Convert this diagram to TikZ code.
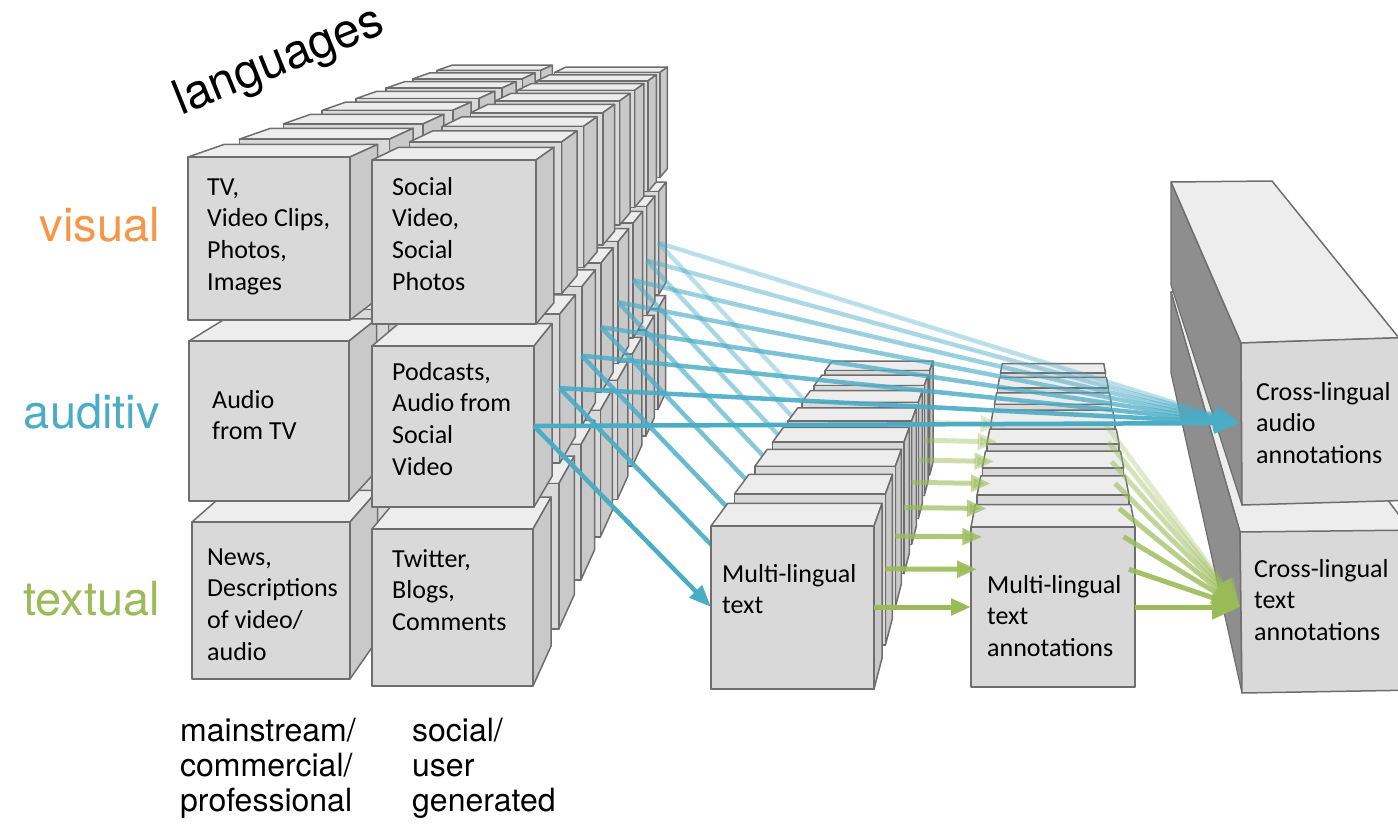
\documentclass[tikz,border=0pt]{standalone}
\usepackage{fontspec}
\setmainfont{Carlito}
\newfontfamily\helv{TeX Gyre Heros}
\usetikzlibrary{calc,arrows.meta}
\definecolor{edgegray}{HTML}{6E6E6E}
\definecolor{frontgray}{HTML}{D9D9D9}
\definecolor{topgray}{HTML}{EDEDED}
\definecolor{sidegray}{HTML}{C9C9C9}
\definecolor{leftgray}{HTML}{8E8E8E}
\definecolor{vorange}{HTML}{F79646}
\definecolor{ablue}{HTML}{4BACC6}
\definecolor{tgreen}{HTML}{9BBB59}
\tikzset{
 frontface/.style={fill=frontgray, draw=edgegray, line width=1.5pt, line join=round},
 topface/.style={fill=topgray, draw=edgegray, line width=1.5pt, line join=round},
 sideface/.style={fill=sidegray, draw=edgegray, line width=1.5pt, line join=round},
 darkface/.style={fill=leftgray, draw=edgegray, line width=1.2pt, line join=round},
 boxtext/.style={anchor=north west, align=left, inner sep=0pt, font={\fontsize{26}{31.7}\selectfont}},
 catlabel/.style={anchor=base east, inner sep=0pt, font={\helv\fontsize{47}{56}\selectfont}},
 srclabel/.style={anchor=north west, align=left, inner sep=0pt, font={\helv\fontsize{32}{35}\selectfont}},
 blueline/.style={draw=ablue, fill=ablue, line width=4.5pt},
 greenline/.style={draw=tgreen, fill=tgreen, line width=5pt},
}
\newcommand\bstrut{\rule{0pt}{21pt}}
\newcommand\hstrut{\rule{0pt}{25pt}}
% #1 vanishing point, #2 x0, #3 y0, #4 x1, #5 y1, #6 depth parameter, #7 right face shown
\newcommand\drawcube[7]{%
  \pgfmathsetmacro\scA{1/(#6)}%
  \pgfmathsetmacro\scB{1/(#6+0.055)}%
  \coordinate (q1) at ($(#1)!\scA!(#2,#3)$);
  \coordinate (q2) at ($(#1)!\scA!(#4,#3)$);
  \coordinate (q3) at ($(#1)!\scA!(#4,#5)$);
  \coordinate (q4) at ($(#1)!\scA!(#2,#5)$);
  \coordinate (r1) at ($(#1)!\scB!(#2,#3)$);
  \coordinate (r2) at ($(#1)!\scB!(#4,#3)$);
  \coordinate (r3) at ($(#1)!\scB!(#4,#5)$);
  \filldraw[topface] (q1) -- (q2) -- (r2) -- (r1) -- cycle;
  \ifnum#7=1 \filldraw[sideface] (q2) -- (r2) -- (r3) -- (q3) -- cycle;\fi
  \filldraw[frontface] (q1) -- (q2) -- (q3) -- (q4) -- cycle;
}
\begin{document}
\begin{tikzpicture}[x=1pt,y=-1pt]
\useasboundingbox (0,0) rectangle (1398,826);
\clip (0,0) rectangle (1398,826);
\coordinate (VA) at (881,-84);
\coordinate (VB) at (1029,93);
\coordinate (VC) at (1053,98);

% ---------- cross-lingual boxes ----------
\filldraw[topface] (1171,292) -- (1230,292) -- (1412,532) -- (1240,532) -- cycle;
\filldraw[darkface] (1171,292) -- (1240,532) -- (1242,693) -- (1171,373) -- cycle;
\filldraw[frontface] (1240,532) -- (1420,530) -- (1420,690) -- (1242,693) -- cycle;
\filldraw[darkface] (1171,182) -- (1241,343) -- (1242,505) -- (1171,285) -- cycle;
\filldraw[topface] (1171,182) -- (1272,181) -- (1399,338) -- (1241,343) -- cycle;
\filldraw[frontface] (1241,343) -- (1420,337) -- (1420,500) -- (1242,505) -- cycle;
\node[boxtext] (crossaudio) at (1256,379) {\bstrut Cross-lingual\\audio\\annotations};
\node[boxtext] (crosstext) at (1254,556) {\bstrut Cross-lingual\\text\\annotations};

% ---------- media cube ----------
\foreach \k in {7,6,...,0}{
  \pgfmathsetmacro\tk{1+0.08*\k}
  \foreach \xa/\ya/\xb/\yb in {192/522/350/679, 372/529/533/686, 189/341/349/501, 372/346/534/507, 188/157/350/320, 372/160/536/324}{
    \drawcube{VA}{\xa}{\ya}{\xb}{\yb}{\tk}{1}
  }
}
\node[boxtext] (tv) at (207,174) {\bstrut TV,\\Video Clips,\\Photos,\\Images};
\node[boxtext] (socvid) at (392,174) {\bstrut Social\\Video,\\Social\\Photos};
\node[boxtext] (audtv) at (212,387) {\bstrut Audio\\from TV};
\node[boxtext] (podcasts) at (392,359) {\bstrut Podcasts,\\Audio from\\Social\\Video};
\node[boxtext] (news) at (207,544) {\bstrut News,\\Descriptions\\of video/\\audio};
\node[boxtext] (twitter) at (392,546) {\bstrut Twitter,\\Blogs,\\Comments};

% ---------- labels ----------
\node[anchor=base west, inner sep=0pt, rotate=22, font={\helv\fontsize{48}{56}\selectfont}] (languages) at (181,116) {languages};
\node[catlabel, text=vorange] (visual) at (160,242) {visual};
\node[catlabel, text=ablue] (auditiv) at (160,428) {auditiv};
\node[catlabel, text=tgreen] (textual) at (160,615) {textual};
\node[srclabel] (mainstream) at (180,716) {\hstrut mainstream/\\commercial/\\professional};
\node[srclabel] (social) at (412,716) {\hstrut social/\\user\\generated};

% ---------- connector end points ----------
\foreach \k in {0,...,7}{
  \pgfmathsetmacro\skk{1/(1+0.08*\k)}
  \coordinate (bs\k) at ($(VA)!\skk!(534,426)$);
  \coordinate (bt\k) at ($(VB)!\skk!(711,607)$);
  \coordinate (gs\k) at ($(VB)!\skk!(874,607)$);
  \coordinate (gt\k) at ($(VC)!\skk!(971,607)$);
  \coordinate (hs\k) at ($(VC)!\skk!(1135,607)$);
}
\coordinate (audioTip) at (1240,423);
\coordinate (textTip) at (1240,607);

% ---------- blue: audio -> multi-lingual text ----------
\foreach \k in {7,6,...,1}{
  \pgfmathsetmacro\opac{1-0.09*\k}
  \draw[blueline, opacity=\opac] (bs\k) -- (bt\k);
}
\draw[blueline, -{Triangle[length=22pt,width=17pt]}] (bs0) -- (bt0);

% ---------- multi-lingual text stack ----------
\foreach \k in {7,6,...,0}{
  \pgfmathsetmacro\tk{1+0.08*\k}
  \drawcube{VB}{711}{526}{874}{689}{\tk}{1}
}
\node[boxtext] (mltext) at (722,561) {\bstrut Multi-lingual\\text};

% ---------- multi-lingual text annotations stack ----------
\foreach \k in {7,6,...,0}{
  \pgfmathsetmacro\tk{1+0.08*\k}
  \drawcube{VC}{971}{527}{1135}{687}{\tk}{0}
}
\node[boxtext] (mlann) at (987,572) {\bstrut Multi-lingual\\text\\annotations};

% ---------- green arrows ----------
\foreach \k in {7,6,...,0}{
  \pgfmathsetmacro\opac{1-0.1*\k}
  \draw[greenline, opacity=\opac, -{Triangle[length=20pt,width=16pt]}] (gs\k) -- (gt\k);
}
\foreach \k in {7,6,...,0}{
  \pgfmathsetmacro\opac{1-0.1*\k}
  \draw[greenline, opacity=\opac, -{Triangle[length=28pt,width=24pt]}] (hs\k) -- (textTip);
}
% ---------- blue arrows to cross-lingual audio ----------
\foreach \k in {7,6,...,0}{
  \pgfmathsetmacro\opac{1-0.09*\k}
  \draw[blueline, opacity=\opac, -{Triangle[length=26pt,width=20pt]}] (bs\k) -- (audioTip);
}
\end{tikzpicture}
\end{document}
